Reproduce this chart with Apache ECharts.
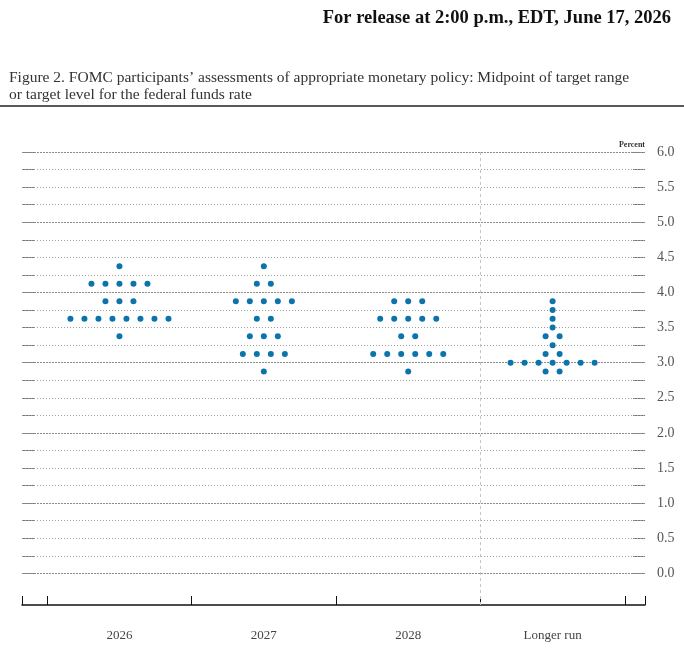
<!DOCTYPE html>
<html>
<head>
<meta charset="utf-8">
<script src="https://cdn.jsdelivr.net/npm/echarts@6/dist/echarts.min.js"></script>
<style>
  html, body { margin: 0; padding: 0; background: #fff; }
  #chart { width: 684px; height: 655px; }
</style>
</head>
<body>
<div id="chart"></div>
<script>
// categories along the bottom
var categories = ['2026', '2027', '2028', 'Longer run'];

// each projection year: rate levels and how many participants sit at each
var rates2026 = [4.375, 4.125, 3.875, 3.625, 3.375];
var counts2026 = [1, 5, 3, 8, 1];
var rates2027 = [4.375, 4.125, 3.875, 3.625, 3.375, 3.125, 2.875];
var counts2027 = [1, 2, 5, 2, 3, 4, 1];
var rates2028 = [3.875, 3.625, 3.375, 3.125, 2.875];
var counts2028 = [3, 5, 2, 6, 1];
var ratesLonger = [3.875, 3.75, 3.625, 3.5, 3.375, 3.25, 3.125, 3.0, 2.875];
var countsLonger = [1, 1, 1, 1, 2, 1, 2, 7, 2];

// y axis ticks / labels (percent)
var yLabels = [0, 0.5, 1, 1.5, 2, 2.5, 3, 3.5, 4, 4.5, 5, 5.5, 6];
var yTicks = [0, 0.25, 0.5, 0.75, 1, 1.25, 1.5, 1.75, 2, 2.25, 2.5, 2.75, 3,
    3.25, 3.5, 3.75, 4, 4.25, 4.5, 4.75, 5, 5.25, 5.5, 5.75, 6];

var chart = echarts.init(document.getElementById('chart'), null, { renderer: 'canvas' });

var xMin = -0.675, xMax = 3.64;
var dotStep = 0.097;
var serif = "'Liberation Serif', 'DejaVu Serif', serif";

function buildDots() {
    var groups = [
        [rates2026, counts2026],
        [rates2027, counts2027],
        [rates2028, counts2028],
        [ratesLonger, countsLonger]
    ];
    var out = [];
    for (var i = 0; i < groups.length; ++i) {
        var rates = groups[i][0], counts = groups[i][1];
        for (var r = 0; r < rates.length; ++r) {
            var n = counts[r];
            for (var k = 0; k < n; ++k) {
                out.push([i + (k - (n - 1) / 2) * dotStep, rates[r]]);
            }
        }
    }
    return out;
}

// horizontal guide lines, whole percents a bit heavier
var gridLines = yTicks.map(function (v) {
    var whole = v % 1 === 0;
    return {
        yAxis: v,
        lineStyle: {
            color: whole ? '#8c8c8c' : '#a0a0a0',
            width: 1,
            type: whole ? [2, 1] : [1, 2]
        }
    };
});
gridLines.push({
    xAxis: 2.5,
    lineStyle: { color: '#c4c4c4', width: 1, type: [3, 3] }
});

function yAxisSide(side, withLabels) {
    return {
        type: 'value',
        position: side,
        min: -0.45,
        max: 6,
        axisLine: { show: false, onZero: false },
        axisTick: {
            show: true,
            inside: true,
            length: 12,
            customValues: yTicks,
            lineStyle: { color: '#777', width: 1 }
        },
        axisLabel: {
            show: withLabels,
            customValues: yLabels,
            formatter: function (v) { return v.toFixed(1); },
            margin: 12,
            fontFamily: serif,
            fontSize: 14,
            color: '#555'
        },
        splitLine: { show: false }
    };
}

var option = {
    animation: false,
    title: [
        {
            text: 'For release at 2:00 p.m., EDT, June 17, 2026',
            right: 8,
            top: 4,
            textStyle: { fontFamily: serif, fontSize: 18.5, fontWeight: 'bold', color: '#111' }
        },
        {
            text: 'Figure 2. FOMC participants\u2019 assessments of appropriate monetary policy: Midpoint of target range\nor target level for the federal funds rate',
            left: 4,
            top: 64,
            textStyle: { fontFamily: serif, fontSize: 15.5, fontWeight: 'normal', color: '#333', lineHeight: 17 }
        }
    ],
    graphic: [
        {
            type: 'line',
            shape: { x1: 0, y1: 106, x2: 684, y2: 106 },
            style: { stroke: '#222', lineWidth: 1.5 }
        },
        {
            type: 'text',
            right: 39,
            top: 141,
            style: { text: 'Percent', font: 'bold 8px ' + serif, fill: '#333' }
        }
    ],
    grid: { left: 22, right: 39, top: 152, bottom: 50 },
    xAxis: {
        type: 'value',
        min: xMin,
        max: xMax,
        axisLine: { onZero: false, lineStyle: { color: '#111', width: 1.5 } },
        axisTick: {
            show: true,
            inside: true,
            length: 9,
            customValues: [xMin, -0.5, 0.5, 1.5, 2.5, 3.5, xMax],
            lineStyle: { color: '#111', width: 1 }
        },
        axisLabel: {
            customValues: [0, 1, 2, 3],
            formatter: function (v) { return categories[Math.round(v)]; },
            margin: 24,
            fontFamily: serif,
            fontSize: 13,
            color: '#444'
        },
        splitLine: { show: false }
    },
    yAxis: [yAxisSide('right', true), yAxisSide('left', false)],
    series: [
        {
            type: 'scatter',
            yAxisIndex: 0,
            symbol: 'circle',
            symbolSize: 6,
            itemStyle: { color: '#0b74ad', opacity: 1 },
            data: buildDots(),
            markLine: {
                silent: true,
                symbol: 'none',
                label: { show: false },
                data: gridLines
            },
            z: 5
        }
    ]
};

chart.setOption(option);
</script>
</body>
</html>
